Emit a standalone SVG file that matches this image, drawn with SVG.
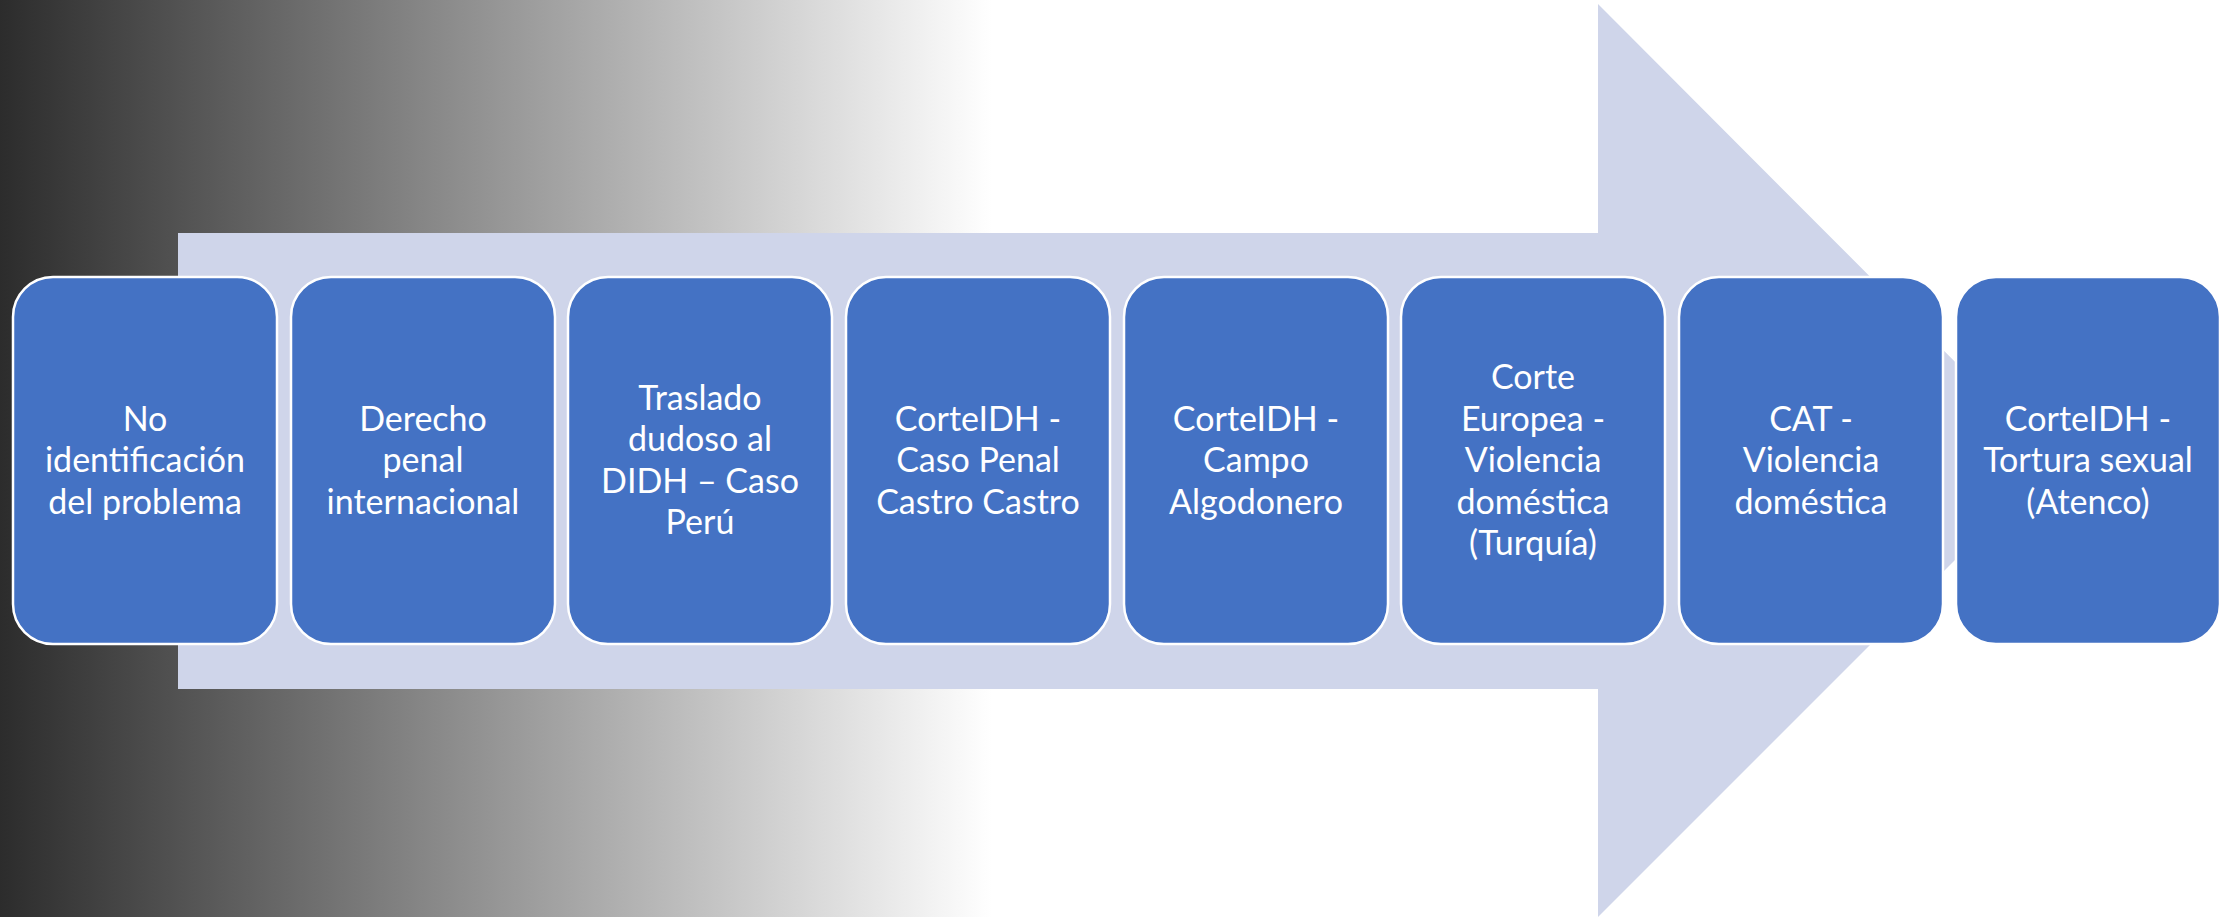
<svg xmlns="http://www.w3.org/2000/svg" width="2236" height="917" viewBox="0 0 2236 917">
<defs>
<linearGradient id="bg" x1="0" y1="0" x2="992" y2="0" gradientUnits="userSpaceOnUse">
<stop offset="0" stop-color="#2c2c2c"/>
<stop offset="1" stop-color="#ffffff"/>
</linearGradient>
<style>
.box{fill:#4472c4;stroke:#ffffff;stroke-width:2.5}
.lbl{font-family:Lato,"Open Sans","Liberation Sans",sans-serif;font-size:34px;fill:#ffffff;text-anchor:middle}
</style>
</defs>
<rect x="0" y="0" width="2236" height="917" fill="#ffffff"/>
<rect x="0" y="0" width="992" height="917" fill="url(#bg)"/>
<g id="arrow">
<polygon points="178,233 1598,233 1598,4 2054,461 1598,917 1598,689 178,689" fill="#cfd5ea"/>
</g>
<g id="connectors"></g>
<g id="node1">
<rect class="box" x="13" y="277" width="264" height="367" rx="40" ry="40"/>
<text class="lbl" x="145" y="430.5">No</text>
<text class="lbl" x="145" y="472">identificación</text>
<text class="lbl" x="145" y="513.5">del problema</text>
</g>
<g id="node2">
<rect class="box" x="291" y="277" width="264" height="367" rx="40" ry="40"/>
<text class="lbl" x="423" y="430.5">Derecho</text>
<text class="lbl" x="423" y="472">penal</text>
<text class="lbl" x="423" y="513.5">internacional</text>
</g>
<g id="node3">
<rect class="box" x="568" y="277" width="264" height="367" rx="40" ry="40"/>
<text class="lbl" x="700" y="409.75">Traslado</text>
<text class="lbl" x="700" y="451.25">dudoso al</text>
<text class="lbl" x="700" y="492.75">DIDH – Caso</text>
<text class="lbl" x="700" y="534.25">Perú</text>
</g>
<g id="node4">
<rect class="box" x="846" y="277" width="264" height="367" rx="40" ry="40"/>
<text class="lbl" x="978" y="430.5">CorteIDH -</text>
<text class="lbl" x="978" y="472">Caso Penal</text>
<text class="lbl" x="978" y="513.5">Castro Castro</text>
</g>
<g id="node5">
<rect class="box" x="1124" y="277" width="264" height="367" rx="40" ry="40"/>
<text class="lbl" x="1256" y="430.5">CorteIDH -</text>
<text class="lbl" x="1256" y="472">Campo</text>
<text class="lbl" x="1256" y="513.5">Algodonero</text>
</g>
<g id="node6">
<rect class="box" x="1401" y="277" width="264" height="367" rx="40" ry="40"/>
<text class="lbl" x="1533" y="389">Corte</text>
<text class="lbl" x="1533" y="430.5">Europea -</text>
<text class="lbl" x="1533" y="472">Violencia</text>
<text class="lbl" x="1533" y="513.5">doméstica</text>
<text class="lbl" x="1533" y="555">(Turquía)</text>
</g>
<g id="node7">
<rect class="box" x="1679" y="277" width="264" height="367" rx="40" ry="40"/>
<text class="lbl" x="1811" y="430.5">CAT -</text>
<text class="lbl" x="1811" y="472">Violencia</text>
<text class="lbl" x="1811" y="513.5">doméstica</text>
</g>
<g id="node8">
<rect class="box" x="1956" y="277" width="264" height="367" rx="40" ry="40"/>
<text class="lbl" x="2088" y="430.5">CorteIDH -</text>
<text class="lbl" x="2088" y="472">Tortura sexual</text>
<text class="lbl" x="2088" y="513.5">(Atenco)</text>
</g>
</svg>
